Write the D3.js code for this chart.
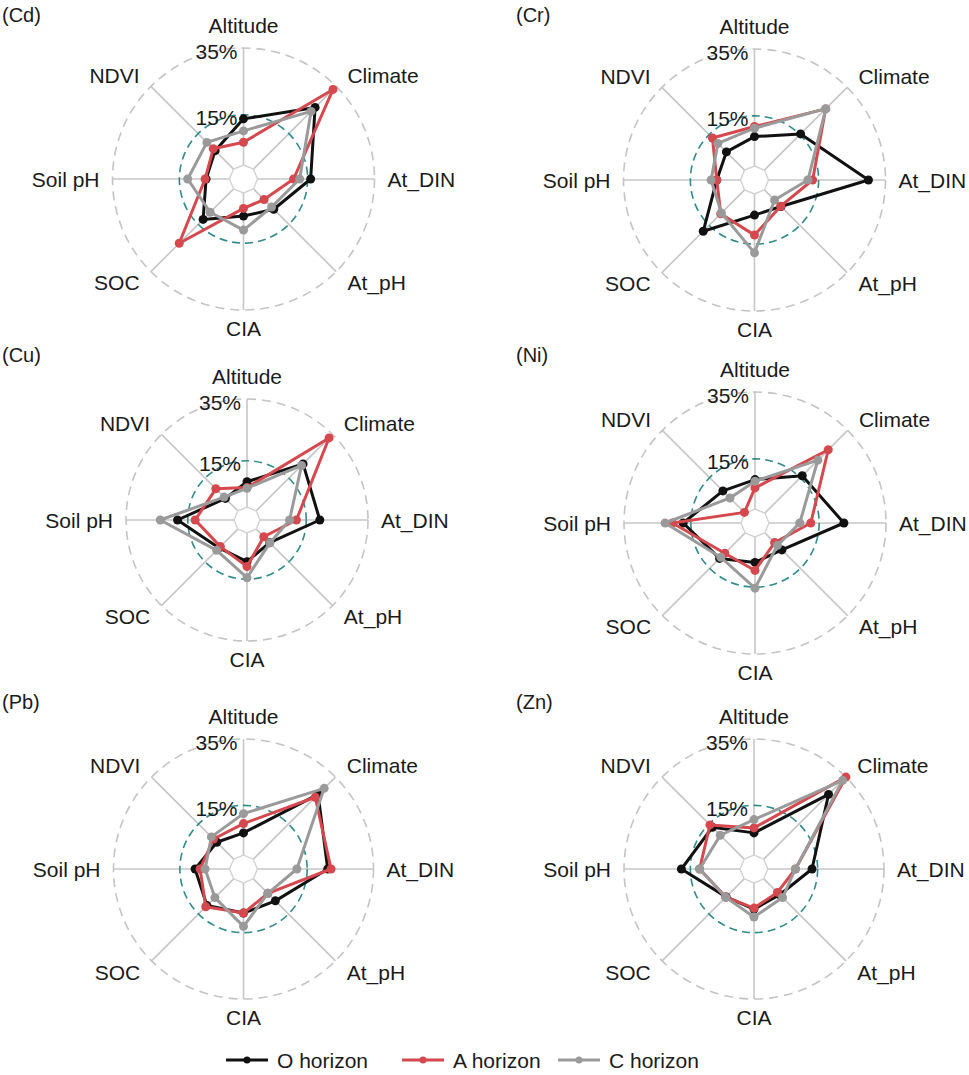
<!DOCTYPE html>
<html>
<head>
  <script src="https://d3js.org/d3.v7.min.js"></script>
  <style>
    body { margin: 0; background: #fff; }
    svg text { font-family: 'Liberation Sans', Arial, sans-serif; fill: #1a1a1a; }
  </style>
</head>
<body>
<div id="chart"></div>
<script>
  // axes go clockwise from the top
  const axes = ["Altitude", "Climate", "At_DIN", "At_pH", "CIA", "SOC", "Soil pH", "NDVI"];
  const horizons = ["O horizon", "A horizon", "C horizon"];
  const colors = ["#111111", "#d5484d", "#9a9a9a"];
  const panelNames = ["Cd", "Cr", "Cu", "Ni", "Pb", "Zn"];
  const ringTicks = [15, 35];

  // relative importance (%) per horizon: O, A, C
  const cdValues = [
    [13.8, 26.1, 15.9, 8.6, 6.9, 12.9, 7.0, 7.8],
    [6.8, 33.7, 10.8, 4.5, 4.6, 23.0, 7.3, 8.6],
    [10.2, 24.4, 12.6, 7.7, 11.1, 9.9, 12.5, 11.3]
  ];
  const crValues = [
    [8.8, 15.3, 29.9, 7.0, 6.3, 17.5, 7.1, 7.7],
    [11.8, 25.9, 13.2, 6.9, 12.3, 10.1, 7.1, 13.6],
    [11.3, 26.0, 11.8, 4.3, 17.6, 9.8, 8.8, 11.3]
  ];
  const cuValues = [
    [8.2, 21.5, 19.4, 6.2, 9.3, 8.6, 18.3, 5.7],
    [6.3, 33.4, 11.8, 3.5, 10.9, 8.0, 12.6, 10.1],
    [6.1, 20.8, 9.6, 6.3, 14.5, 9.7, 23.9, 6.3]
  ];
  const niValues = [
    [8.8, 15.8, 22.4, 7.2, 7.6, 10.8, 17.3, 9.4],
    [6.3, 26.8, 12.5, 4.1, 10.0, 8.6, 20.5, 0.3],
    [8.3, 22.4, 9.2, 5.3, 15.3, 10.3, 22.7, 6.4]
  ];
  const pbValues = [
    [6.7, 27.6, 21.2, 9.4, 9.1, 11.4, 10.4, 7.2],
    [9.5, 26.4, 22.2, 6.2, 9.1, 11.9, 8.9, 8.6],
    [12.5, 30.2, 11.9, 6.2, 13.1, 8.0, 7.4, 9.5]
  ];
  const znValues = [
    [6.7, 27.6, 13.3, 6.8, 7.9, 7.7, 17.7, 13.6],
    [8.2, 35.0, 8.3, 5.8, 7.6, 7.8, 12.2, 14.6],
    [10.7, 33.6, 8.3, 8.0, 10.3, 7.9, 12.2, 10.2]
  ];
  const panelValues = [cdValues, crValues, cuValues, niValues, pbValues, znValues];

  const width = 969, height = 1075;
  const layout = [
    { cx: 243.5, cy: 179, R: 131, lx: 2, ly: 22 },
    { cx: 754.5, cy: 180, R: 131, lx: 516, ly: 22 },
    { cx: 247, cy: 520, R: 121, lx: 2, ly: 362 },
    { cx: 755, cy: 523, R: 131, lx: 516, ly: 362 },
    { cx: 243.5, cy: 869, R: 130, lx: 2, ly: 709 },
    { cx: 754, cy: 869, R: 130, lx: 516, ly: 709 }
  ];

  const svg = d3.select("#chart").append("svg")
    .attr("width", width)
    .attr("height", height);

  const step = 2 * Math.PI / axes.length;

  panelNames.forEach((name, p) => {
    const L = layout[p];
    const r0 = L.R * 14 / 131;
    const rScale = d3.scaleLinear().domain([0, 35]).range([r0, L.R]);

    svg.append("text")
      .attr("x", L.lx).attr("y", L.ly)
      .style("font-size", "20px")
      .text("(" + name + ")");

    const g = svg.append("g").attr("transform", `translate(${L.cx},${L.cy})`);

    // spokes
    g.selectAll(".spoke").data(axes).enter().append("line")
      .attr("x1", (d, i) => d3.pointRadial(i * step, r0)[0])
      .attr("y1", (d, i) => d3.pointRadial(i * step, r0)[1])
      .attr("x2", (d, i) => d3.pointRadial(i * step, L.R)[0])
      .attr("y2", (d, i) => d3.pointRadial(i * step, L.R)[1])
      .attr("stroke", "#c6c6c6")
      .attr("stroke-width", 1.6);

    // small inner octagon
    g.append("path")
      .attr("d", d3.lineRadial().angle((d, i) => i * step).radius(r0).curve(d3.curveLinearClosed)(axes))
      .attr("fill", "#fff")
      .attr("stroke", "#d2d2d2")
      .attr("stroke-width", 1.4);

    // rings
    g.append("circle").attr("r", rScale(ringTicks[1]))
      .attr("fill", "none").attr("stroke", "#c4c4c4")
      .attr("stroke-width", 1.6).attr("stroke-dasharray", "9,6");
    g.append("circle").attr("r", rScale(ringTicks[0]))
      .attr("fill", "none").attr("stroke", "#2f8a8c")
      .attr("stroke-width", 1.6).attr("stroke-dasharray", "8,5");

    // series
    const line = d3.lineRadial()
      .angle((d, i) => i * step)
      .radius(d => rScale(d))
      .curve(d3.curveLinearClosed);

    panelValues[p].forEach((vals, s) => {
      g.append("path")
        .attr("d", line(vals))
        .attr("fill", "none")
        .attr("stroke", colors[s])
        .attr("stroke-width", 3)
        .attr("stroke-linejoin", "round");
      g.selectAll(".pt" + s).data(vals).enter().append("circle")
        .attr("cx", (d, i) => d3.pointRadial(i * step, rScale(d))[0])
        .attr("cy", (d, i) => d3.pointRadial(i * step, rScale(d))[1])
        .attr("r", 4.5)
        .attr("fill", colors[s]);
    });

    // tick labels
    ringTicks.forEach(t => {
      g.append("text")
        .attr("x", -6)
        .attr("y", -rScale(t) + 3)
        .attr("text-anchor", "end")
        .attr("dominant-baseline", "central")
        .style("font-size", "21px")
        .text(t + "%");
    });

    // axis labels
    axes.forEach((a, i) => {
      const ang = i * step;
      const off = (i === 2 || i === 6) ? L.R + 13 : L.R + 16;
      let [x, y] = d3.pointRadial(ang, off);
      let anchor = "middle";
      if (Math.abs(x) > 1) anchor = x > 0 ? "start" : "end";
      if (i === 0) y = -(L.R + 23);
      if (i === 4) y = L.R + 18;
      g.append("text")
        .attr("x", x).attr("y", y)
        .attr("text-anchor", anchor)
        .attr("dominant-baseline", "central")
        .style("font-size", "21px")
        .text(a);
    });
  });

  // legend
  const legendX = [226, 402, 558];
  const legend = svg.append("g").attr("transform", "translate(0,1060)");
  horizons.forEach((h, s) => {
    const lg = legend.append("g").attr("transform", `translate(${legendX[s]},0)`);
    lg.append("line").attr("x1", 0).attr("x2", 42)
      .attr("stroke", colors[s]).attr("stroke-width", 3);
    lg.append("circle").attr("cx", 21).attr("r", 3.5).attr("fill", colors[s]);
    lg.append("text").attr("x", 51).attr("dominant-baseline", "central")
      .style("font-size", "21px").text(h);
  });
</script>
</body>
</html>
